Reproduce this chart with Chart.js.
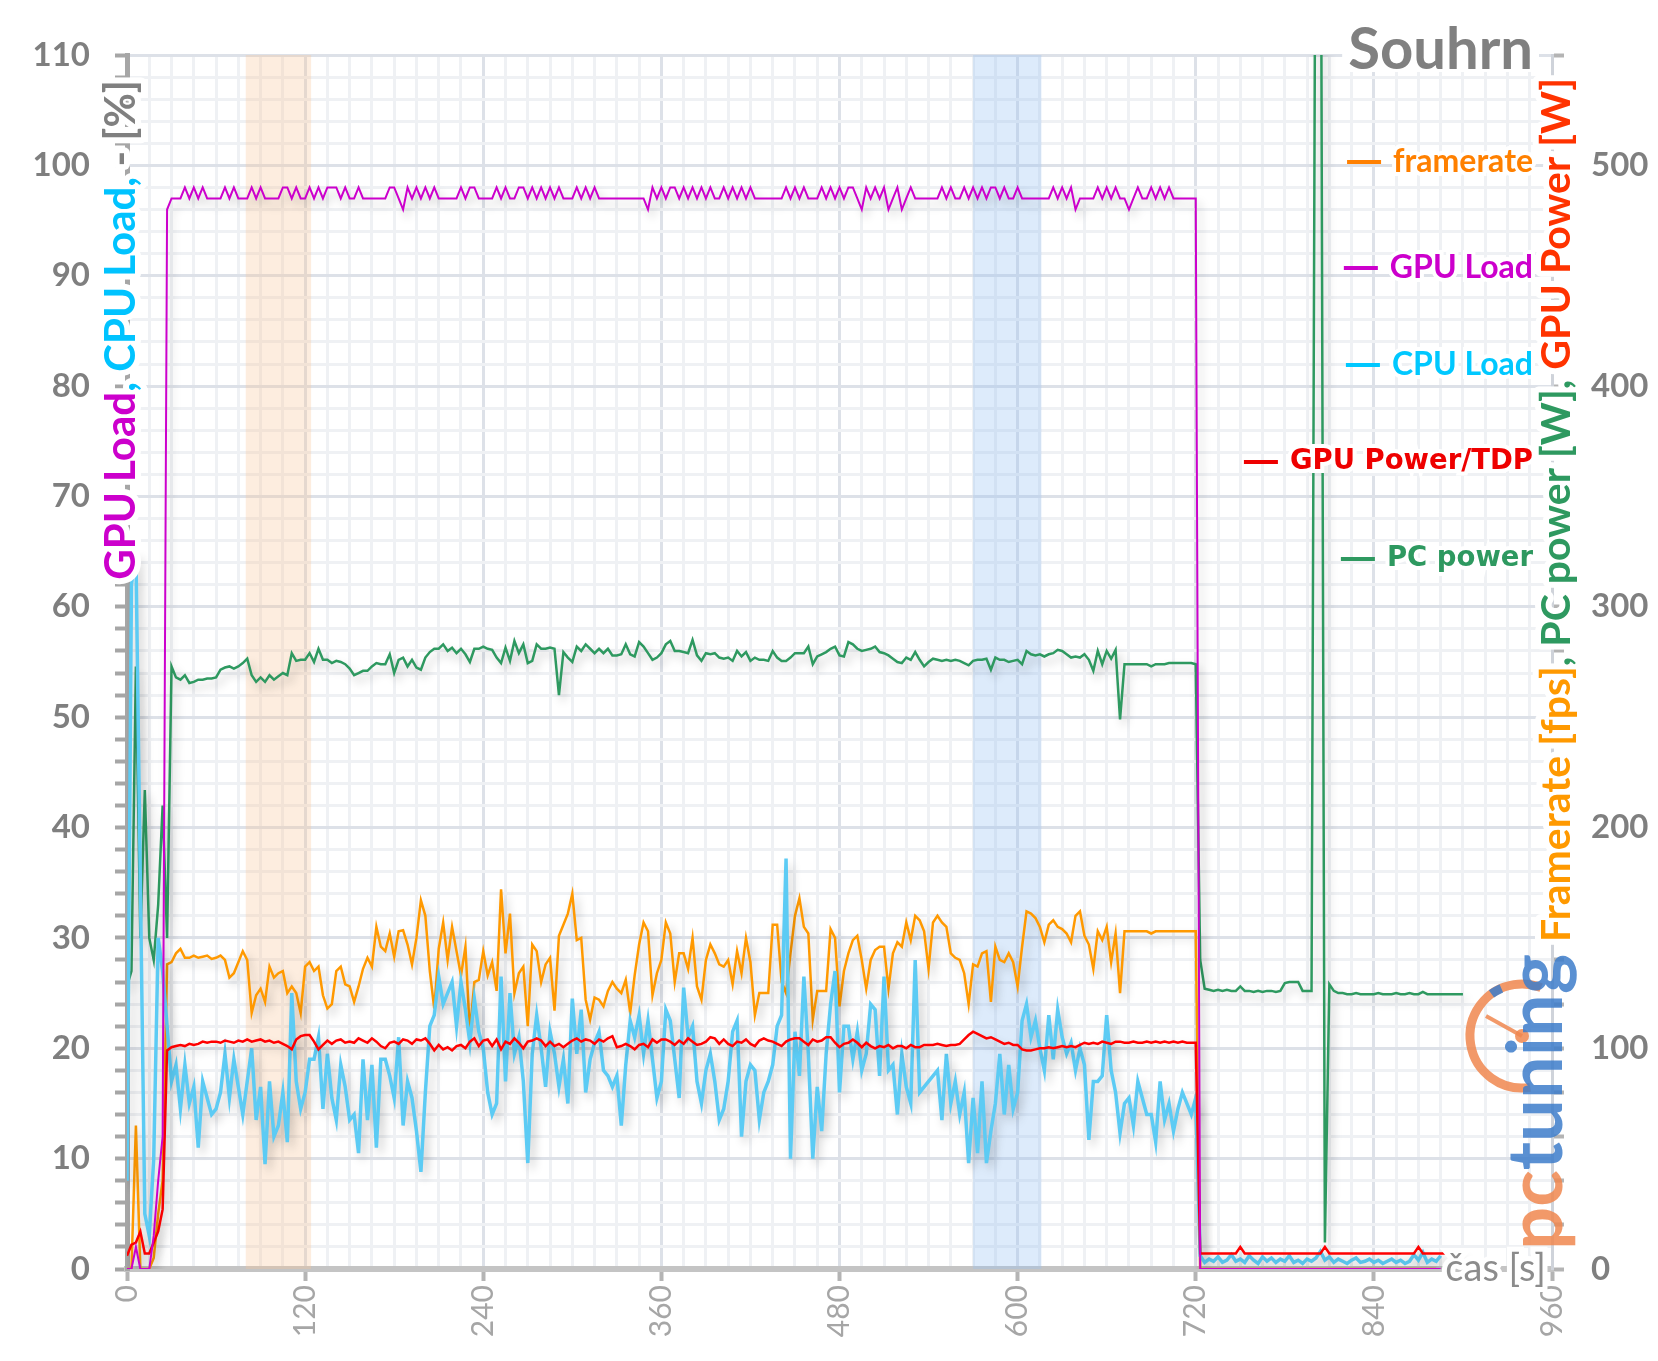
<!DOCTYPE html>
<html>
<head>
<meta charset="utf-8">
<title>Souhrn</title>
<script src="https://cdn.jsdelivr.net/npm/chart.js@4.4.1/dist/chart.umd.min.js"></script>
<style>
  html, body { margin: 0; padding: 0; background: #fff; }
  #wrap { width: 1658px; height: 1361px; }
</style>
</head>
<body>
<div id="wrap"><canvas id="souhrn" width="1658" height="1361"></canvas></div>
<script>
// one sample every 3 s, starting at 0 s
const STEP = 3;

// CPU Load [%]
const cpuLoad = [
  8, 62, 65, 35, 5, 3, 10, 30, 27, 22,
  17, 18.5, 14.5, 18.5, 15, 16.5, 11, 17, 15.5, 14,
  14.5, 16, 19.5, 15.5, 19, 16.5, 14, 17, 20, 13.5,
  16.5, 9.5, 17, 12, 13, 16, 11.5, 25, 17, 14.5,
  16, 19, 19, 21, 14.5, 19.5, 15.5, 13.5, 18.5, 16.5,
  13.5, 14, 10.5, 19, 13.5, 18.5, 11, 19, 19, 17.5,
  15.5, 21, 13, 17, 15.5, 12.5, 8.8, 16, 22, 23,
  26.5, 24, 25, 26, 22, 26, 23.5, 20.5, 24.5, 21.5,
  20, 16, 14, 15, 26.5, 17, 25, 19.5, 21, 17,
  9.6, 19.5, 23, 20, 16.5, 21.5, 19.5, 16.5, 19, 15,
  24.5, 19.5, 23.5, 16, 19, 20.5, 21.5, 18, 17.5, 16.5,
  17.5, 13, 18.5, 22.5, 21, 23, 19.5, 22.5, 19, 15.5,
  17, 23.5, 22.5, 19, 15.5, 25.5, 21, 22, 17, 15,
  18, 19.5, 17, 13.5, 14.5, 17, 21.5, 22.5, 12, 17,
  18.5, 18, 13.5, 16, 17, 18.5, 22, 23, 37.2, 10,
  21.5, 17.5, 26.5, 19.5, 10, 16.5, 12.5, 19.5, 24, 27,
  16, 22, 22, 19, 21.5, 18, 19.5, 24, 23.5, 17.5,
  26.5, 18, 18.5, 14, 19.5, 16.5, 15, 28, 16, 16.5,
  17, 17.5, 18, 13.5, 19.5, 15, 17, 14, 16, 9.6,
  15.5, 10.5, 17, 9.6, 12.5, 15, 19.5, 14, 18.5, 14.5,
  16, 22.5, 24, 21, 22.5, 20, 18, 23, 19, 23.5,
  21, 19.5, 20.5, 18, 20, 18.5, 11.7, 17, 17, 17.5,
  23, 18, 16, 12.3, 15, 15.5, 13, 17, 15.5, 14,
  14, 11.5, 17, 13.5, 15, 12.5, 14.5, 16, 15, 14,
  15.5, 1.2, 0.6, 0.9, 0.7, 1.1, 0.6, 0.8, 1.3, 0.7,
  0.9, 0.6, 1.2, 0.8, 0.5, 1.1, 0.7, 1.0, 0.6, 0.9,
  0.7, 1.2, 0.6, 0.8, 0.5, 0.9, 0.7, 1.0, 1.6, 0.8,
  1.1, 0.6, 0.9, 0.7, 0.5, 0.8, 1.0, 0.6, 0.7, 0.9,
  0.6, 0.8, 0.5, 0.7, 0.9, 0.6, 0.8, 0.5, 0.7, 1.3,
  0.8, 1.5, 0.6, 0.9, 0.7, 1.2
];

// GPU Load [%]
const gpuLoad = [
  0, 0, 2, 0, 0, 0, 3, 8, 12, 96,
  97, 97, 97, 98, 97, 98, 97, 98, 97, 97,
  97, 97, 98, 97, 98, 97, 97, 97, 98, 97,
  98, 97, 97, 97, 97, 98, 98, 97, 98, 97,
  97, 98, 97, 98, 97, 98, 98, 98, 97, 98,
  97, 97, 98, 97, 97, 97, 97, 97, 97, 98,
  98, 97, 96, 98, 97, 98, 97, 98, 97, 98,
  97, 97, 97, 97, 97, 98, 97, 98, 98, 97,
  97, 97, 97, 98, 97, 98, 97, 97, 98, 98,
  97, 98, 97, 98, 97, 98, 97, 98, 97, 97,
  97, 98, 97, 98, 97, 98, 97, 97, 97, 97,
  97, 97, 97, 97, 97, 97, 97, 96, 98, 97,
  98, 97, 98, 98, 97, 98, 97, 98, 97, 98,
  97, 98, 97, 97, 98, 97, 98, 97, 98, 97,
  98, 97, 97, 97, 97, 97, 97, 97, 98, 97,
  98, 97, 98, 97, 97, 97, 98, 97, 98, 97,
  98, 97, 98, 98, 97, 96, 98, 97, 98, 97,
  98, 96, 97, 98, 96, 97, 98, 97, 97, 97,
  97, 97, 97, 98, 97, 98, 97, 97, 98, 97,
  98, 97, 98, 97, 98, 98, 97, 98, 97, 97,
  98, 97, 97, 97, 97, 97, 97, 97, 98, 97,
  98, 97, 98, 96, 97, 97, 97, 97, 98, 97,
  98, 97, 98, 97, 97, 96, 97, 98, 97, 97,
  98, 97, 98, 97, 98, 97, 97, 97, 97, 97,
  97, 0, 0, 0, 0, 0, 0, 0, 0, 0,
  0, 0, 0, 0, 0, 0, 0, 0, 0, 0,
  0, 0, 0, 0, 0, 0, 0, 0, 0, 0,
  0, 0, 0, 0, 0, 0, 0, 0, 0, 0,
  0, 0, 0, 0, 0, 0, 0, 0, 0, 0,
  0, 0, 0, 0, 0, 0
];

// framerate [fps]
const framerate = [
  0, 0, 65, 0, 0, 0, 5, 25, 40, 138,
  139, 143, 145, 141, 141, 142, 141, 141.5, 142, 140.5,
  141, 142, 140, 132, 134, 139, 144, 140, 116, 124,
  127, 121, 137, 132, 134, 135, 125, 128, 125, 116,
  137, 139, 135, 137, 124, 118, 120, 135, 137, 129,
  128, 121, 128, 136, 141, 137, 155, 146, 144, 152,
  141.5, 153, 153.5, 147, 138, 150, 167, 160, 135, 118,
  145, 157, 140, 155, 144, 133, 146, 107, 130, 131,
  144, 133, 139, 126, 172, 143, 161, 125, 134, 137,
  110, 147, 144, 130, 138, 141, 117, 151, 156, 161,
  170, 149, 150, 122, 113, 123, 122, 119, 126, 130,
  127, 125, 131, 116, 133, 147, 157, 153, 124, 134,
  140, 157, 152, 130, 143, 143, 136, 150, 128, 122,
  140, 147, 143, 138, 137, 140, 129, 144, 134, 150,
  139, 115, 125, 125, 125, 156, 156, 130, 125, 143,
  160, 168, 155, 152, 113, 126, 126, 126, 154, 150,
  119, 135, 143, 149, 151, 140, 127, 140, 144.5, 146,
  146, 127, 143, 148, 146, 157, 149, 160, 158, 153,
  136, 157, 160, 157, 155, 143, 141, 140, 134, 120,
  138, 137, 143, 144, 121, 146, 140, 139, 143, 139,
  128, 146, 162, 161, 159, 155, 148, 156, 158, 155,
  154, 152, 148, 160, 162, 151, 147, 136, 153, 149,
  155, 139, 152, 125, 153, 153, 153, 153, 153, 153,
  152, 153, 153, 153, 153, 153, 153, 153, 153, 153,
  153, 0, 0, 0, 0, 0, 0, 0, 0, 0,
  0, 0, 0, 0, 0, 0, 0, 0, 0, 0,
  0, 0, 0, 0, 0, 0, 0, 0, 0, 0,
  0, 0, 0, 0, 0, 0, 0, 0, 0, 0,
  0, 0, 0, 0, 0, 0, 0, 0, 0, 0,
  0, 0, 0, 0, 0
];

// GPU Power [W]
const gpuPower = [
  6, 11, 12, 17, 7, 7, 12, 17, 27, 99,
  100.5, 101, 101.5, 101, 102, 101.5, 102, 103, 102.5, 103,
  103, 102.5, 103.5, 103, 102.5, 103.5, 103, 104, 103, 103.5,
  104, 103, 103.5, 102.5, 103, 102, 101, 99.5, 104, 105.5,
  106, 106, 103, 99.5, 101.5, 103.5, 102, 103.5, 104, 102.5,
  103, 102.5, 104.5, 103.5, 102.5, 104.5, 103, 101, 100, 102.5,
  103, 102, 104, 103.5, 102, 104, 103.5, 104.5, 102, 99,
  101.5, 99.5, 100.5, 99, 101, 101.5, 100, 103, 104.5, 101,
  103.5, 104, 101, 104, 99.5, 103, 102, 104.5, 102.5, 100,
  103, 103.5, 104.5, 103.5, 101, 103, 101, 102, 100.5, 102,
  103.5, 104.5, 103, 104, 103.5, 102, 104, 103, 104.5, 105.5,
  100.5, 101, 102, 101, 99.5, 101.5, 102, 100.5, 104, 102.5,
  104, 104, 103, 101.5, 103.5, 102, 104.5, 103, 101.5, 102,
  103, 105, 104.5, 102, 104, 102, 101, 103, 102.5, 104,
  102, 101, 103.5, 104.5, 103.5, 103, 102, 101, 103, 104,
  104.5, 104.5, 103, 101.5, 104, 103, 103.5, 105, 105, 102.5,
  100.5, 102, 102.5, 104, 102.5, 100.5, 102.5, 101, 100, 101,
  100.5, 101.5, 100, 101, 101, 100, 101.5, 100.5, 100.5, 101.5,
  101.5, 101.5, 102, 101.5, 101, 101.5, 101.5, 102, 104, 106,
  107.5, 106.5, 105.5, 104.5, 105, 104, 103, 102, 102.5, 101.5,
  101.5, 99.5, 99, 99, 99.5, 100, 100, 100.5, 100, 100.5,
  101, 100.5, 101, 100.5, 101.5, 102.5, 102, 102.5, 102, 103,
  102.5, 102, 103, 103, 102.5, 102.5, 103, 102.5, 102.5, 103,
  102.5, 103, 102.5, 103, 102.5, 103, 102.5, 103, 102.5, 102.5,
  102.5, 7, 7, 7, 7, 7, 7, 7, 7, 7,
  10, 7, 7, 7, 7, 7, 7, 7, 7, 7,
  7, 7, 7, 7, 7, 7, 7, 7, 7, 10,
  7, 7, 7, 7, 7, 7, 7, 7, 7, 7,
  7, 7, 7, 7, 7, 7, 7, 7, 7, 7,
  10, 7, 7, 7, 7, 7, 7, 7, 7, 7,
  7
];

// PC power [W]
const pcPower = [
  128, 135, 273, 150, 217, 150, 140, 165, 210, 150,
  273, 268, 267, 269, 265.5, 266, 267, 267, 267.5, 267.5,
  268, 271.5, 272.5, 273, 272, 273, 274.5, 276.5, 269, 266,
  268, 266, 269, 267, 268.5, 270, 269, 279, 275.5, 276,
  276, 279, 275, 281, 276, 276, 274.5, 275.5, 275, 274,
  272, 269, 270, 271, 271, 273, 274.5, 274, 274, 278.5,
  270, 276, 277, 273, 276, 272.5, 271.5, 277, 279.5, 281,
  281, 283, 280, 281.5, 279, 281, 278.5, 275, 281, 281,
  282, 281, 280.5, 277, 274.5, 281.5, 275.5, 284.5, 279, 283,
  274.5, 275.5, 283, 281, 281, 281.5, 281, 260, 279.5, 277,
  275, 282, 280, 283, 281, 279, 281, 279, 281, 278,
  278, 278.5, 283, 278.5, 277.5, 284, 282, 279, 276, 277,
  279, 283, 284.5, 280, 280, 279.5, 279, 285, 278, 275.5,
  279, 278.5, 279, 277, 276.5, 277, 275.5, 280, 277.5, 279.5,
  275.5, 277, 276, 276, 275.5, 280, 277, 275.5, 275.5, 277,
  279, 279, 279, 282, 274, 277.5, 278.5, 279.5, 281, 282,
  278, 277.5, 284, 283, 281, 280, 280.5, 281, 282, 279.5,
  279, 278, 276.5, 275, 274.5, 277, 276, 279.5, 276, 273,
  275, 276.5, 276, 275.5, 276, 275.5, 276, 275.5, 274.5, 273.5,
  275.5, 276, 276, 276.5, 271.5, 277, 276, 276, 275, 275.5,
  276, 274, 280, 278.5, 278, 278.5, 277.5, 278.5, 279, 280.5,
  280, 278.5, 277, 277.5, 277, 278.5, 276, 271, 280, 274,
  280, 276.5, 280.5, 249, 274, 274, 274, 274, 274, 274,
  273, 274, 274, 274, 274.5, 274.5, 274.5, 274.5, 274.5, 274.5,
  274, 140, 127, 126.5, 126, 126.5, 126, 126.5, 126, 126,
  128, 126, 126, 125.5, 126, 125.5, 126, 126, 125.5, 126,
  129.5, 130, 130, 130, 126, 126, 126, 700, 700, 12,
  129, 126, 125, 125, 124.5, 124.5, 125, 124.5, 124.5, 124.5,
  124.5, 125, 124.5, 124.5, 124.5, 125, 124.5, 124.5, 125, 124.5,
  124.5, 125.5, 124.5, 124.5, 124.5, 124.5, 124.5, 124.5, 124.5, 124.5,
  124.5
];

// highlighted time ranges [s]
const bandStart = [80, 570];
const bandEnd = [124, 616];
const bandColors = ['rgba(250, 196, 150, 0.30)', 'rgba(150, 192, 242, 0.32)'];

const legendNames = ['framerate', 'GPU Load', 'CPU Load', 'GPU Power/TDP', 'PC power'];
const legendColors = ['#ff8000', '#cc00cc', '#00c8ff', '#ee0000', '#2e9960'];

const secs = Array.from({ length: 310 }, (_, i) => i * STEP);
const pts = vals => vals.map((v, i) => ({ x: secs[i], y: v }));

const GRID_MAJOR = '#dde1e8';
const GRID_MINOR = '#eff1f4';

// draws a bottom-to-top line of coloured text pieces ending at yTop
function rotText(ctx, parts, x, yTop, font) {
  ctx.save();
  ctx.translate(x, yTop);
  ctx.rotate(-Math.PI / 2);
  ctx.font = font;
  ctx.textAlign = 'left';
  ctx.textBaseline = 'middle';
  const total = parts.reduce((s, p) => s + ctx.measureText(p[0]).width, 0);
  let cx = -total;
  ctx.lineJoin = 'round';
  ctx.lineWidth = 12;
  ctx.strokeStyle = '#fff';
  for (const [txt] of parts) { ctx.strokeText(txt, cx, 0); cx += ctx.measureText(txt).width; }
  cx = -total;
  for (const [txt, col] of parts) { ctx.fillStyle = col; ctx.fillText(txt, cx, 0); cx += ctx.measureText(txt).width; }
  ctx.restore();
}

const overlay = {
  id: 'overlay',
  beforeDatasetsDraw(chart) {
    const { ctx, chartArea: a, scales: { x } } = chart;
    ctx.save();
    bandStart.forEach((s, i) => {
      const x0 = x.getPixelForValue(s), x1 = x.getPixelForValue(bandEnd[i]);
      ctx.fillStyle = bandColors[i];
      ctx.fillRect(x0, a.top, x1 - x0, a.bottom - a.top);
    });
    ctx.restore();
  },
  beforeDatasetDraw(chart) {
    const ctx = chart.ctx;
    ctx.save();
    ctx.shadowColor = 'rgba(0,0,0,0.22)';
    ctx.shadowBlur = 10;
    ctx.shadowOffsetX = 4;
    ctx.shadowOffsetY = 6;
  },
  afterDatasetDraw(chart) {
    chart.ctx.restore();
  },
  afterDraw(chart) {
    const ctx = chart.ctx;
    const a = chart.chartArea;
    ctx.save();

    // title
    ctx.font = 'bold 58px Lato';
    ctx.textAlign = 'right';
    ctx.textBaseline = 'alphabetic';
    const tw = ctx.measureText('Souhrn').width;
    ctx.fillStyle = '#fff';
    ctx.fillRect(1533 - tw - 6, 22, tw + 12, 50);
    ctx.fillStyle = '#808080';
    ctx.fillText('Souhrn', 1533, 69);

    // legend
    const ly = [162, 268, 365, 462, 559];
    legendNames.forEach((name, i) => {
      ctx.font = i >= 3 ? 'bold 27.5px "DejaVu Sans"' : 'bold 32px Lato';
      ctx.textAlign = 'right';
      ctx.textBaseline = 'middle';
      const w = ctx.measureText(name).width;
      ctx.lineWidth = 8;
      ctx.strokeStyle = '#fff';
      ctx.strokeText(name, 1533, ly[i]);
      ctx.fillStyle = legendColors[i];
      ctx.fillText(name, 1533, ly[i]);
      ctx.strokeStyle = legendColors[i];
      ctx.lineWidth = 4;
      ctx.beginPath();
      ctx.moveTo(1533 - w - 46, ly[i]);
      ctx.lineTo(1533 - w - 12, ly[i]);
      ctx.stroke();
    });

    // x axis title
    ctx.font = '38px Lato';
    ctx.textAlign = 'right';
    ctx.textBaseline = 'middle';
    ctx.lineWidth = 10;
    ctx.strokeStyle = '#fff';
    ctx.strokeText('čas [s]', 1546, a.bottom);
    ctx.fillStyle = '#8c8c8c';
    ctx.fillText('čas [s]', 1546, a.bottom);

    // y axis titles
    rotText(ctx, [['GPU Load', '#cc00cc'], [', CPU Load, ', '#00c3ff'], ['- [%]', '#808080']],
      121, 80, 'bold 42px Lato');
    rotText(ctx, [['Framerate [fps]', '#ff9900'], [', PC power [W], ', '#2e9960'], ['GPU Power [W]', '#ff3300']],
      1557, 78, 'bold 41px Lato');

    // pctuning mark
    ctx.globalAlpha = 0.85;
    ctx.lineCap = 'butt';
    ctx.strokeStyle = '#f0874f';
    ctx.lineWidth = 9;
    ctx.beginPath();
    ctx.arc(1522, 1036, 52, Math.PI * 0.45, Math.PI * 1.62);
    ctx.stroke();
    ctx.strokeStyle = '#3d7dca';
    ctx.beginPath();
    ctx.arc(1522, 1036, 52, Math.PI * 1.3, Math.PI * 1.37);
    ctx.stroke();
    ctx.strokeStyle = '#f0874f';
    ctx.lineWidth = 4;
    ctx.beginPath();
    ctx.moveTo(1522, 1036);
    ctx.lineTo(1522 - 36, 1036 - 20);
    ctx.stroke();
    ctx.fillStyle = '#f0874f';
    ctx.beginPath();
    ctx.arc(1522, 1036, 7, 0, Math.PI * 2);
    ctx.fill();
    ctx.translate(1562, 1250);
    ctx.rotate(-Math.PI / 2);
    ctx.font = 'bold 76px Lato';
    ctx.textAlign = 'left';
    ctx.textBaseline = 'alphabetic';
    ctx.fillStyle = '#f0874f';
    ctx.fillText('pc', 0, 0);
    const pw = ctx.measureText('pc').width;
    ctx.fillStyle = '#3d7dca';
    ctx.fillText('tuning', pw, 0);
    ctx.restore();
  }
};

Chart.defaults.font.family = 'Lato';

const lineDefaults = { pointRadius: 0, fill: false, tension: 0 };

new Chart(document.getElementById('souhrn'), {
  type: 'line',
  data: {
    datasets: [
      { ...lineDefaults, label: 'GPU Load', data: pts(gpuLoad), yAxisID: 'y', borderColor: '#cc00cc', borderWidth: 2 },
      { ...lineDefaults, label: 'GPU Power/TDP', data: pts(gpuPower), yAxisID: 'y1', borderColor: '#ff0000', borderWidth: 2.5 },
      { ...lineDefaults, label: 'CPU Load', data: pts(cpuLoad), yAxisID: 'y', borderColor: '#5ccbf4', borderWidth: 3.5 },
      { ...lineDefaults, label: 'framerate', data: pts(framerate), yAxisID: 'y1', borderColor: '#ff9900', borderWidth: 2.5 },
      { ...lineDefaults, label: 'PC power', data: pts(pcPower), yAxisID: 'y1', borderColor: '#2e9960', borderWidth: 2.5 }
    ]
  },
  options: {
    responsive: false,
    animation: false,
    devicePixelRatio: 1,
    layout: { padding: { top: 55, left: 0, right: 0, bottom: 0 } },
    plugins: { legend: { display: false }, title: { display: false }, tooltip: { enabled: false } },
    scales: {
      x: {
        type: 'linear', min: 0, max: 960,
        afterFit: s => { s.height = 92; },
        ticks: {
          stepSize: 15, autoSkip: false, maxRotation: 90, minRotation: 90, padding: 4,
          color: '#a6a6a6', font: { size: 30 },
          callback: v => (v % 120 === 0 ? v : '')
        },
        grid: {
          lineWidth: 3, tickLength: 12, tickWidth: 4,
          color: c => (c.tick && c.tick.value % 120 === 0 ? GRID_MAJOR : GRID_MINOR),
          tickColor: c => (c.tick && c.tick.value % 120 === 0 ? '#b4b4b4' : 'rgba(0,0,0,0)')
        },
        border: { color: '#c4c4c4', width: 6 }
      },
      y: {
        position: 'left', min: 0, max: 110,
        afterFit: s => { s.width = 127; },
        ticks: {
          stepSize: 2, autoSkip: false, padding: 25,
          color: '#7f7f7f', font: { size: 33, weight: 'bold' },
          callback: v => (v % 10 === 0 ? v : '')
        },
        grid: {
          lineWidth: 3, tickLength: 12, tickWidth: 4, tickColor: '#a6a6a6',
          color: c => (c.tick && c.tick.value % 10 === 0 ? GRID_MAJOR : GRID_MINOR)
        },
        border: { color: '#a6a6a6', width: 5 }
      },
      y1: {
        position: 'right', min: 0, max: 550,
        afterFit: s => { s.width = 106; },
        ticks: {
          stepSize: 20, autoSkip: false, padding: 27,
          color: '#7f7f7f', font: { size: 33, weight: 'bold' },
          callback: v => (v % 100 === 0 ? v : '')
        },
        grid: { drawOnChartArea: false, tickLength: 12, tickWidth: 4, tickColor: '#b4b4b4' },
        border: { color: '#cfd3da', width: 3 }
      }
    }
  },
  plugins: [overlay]
});
</script>
</body>
</html>
